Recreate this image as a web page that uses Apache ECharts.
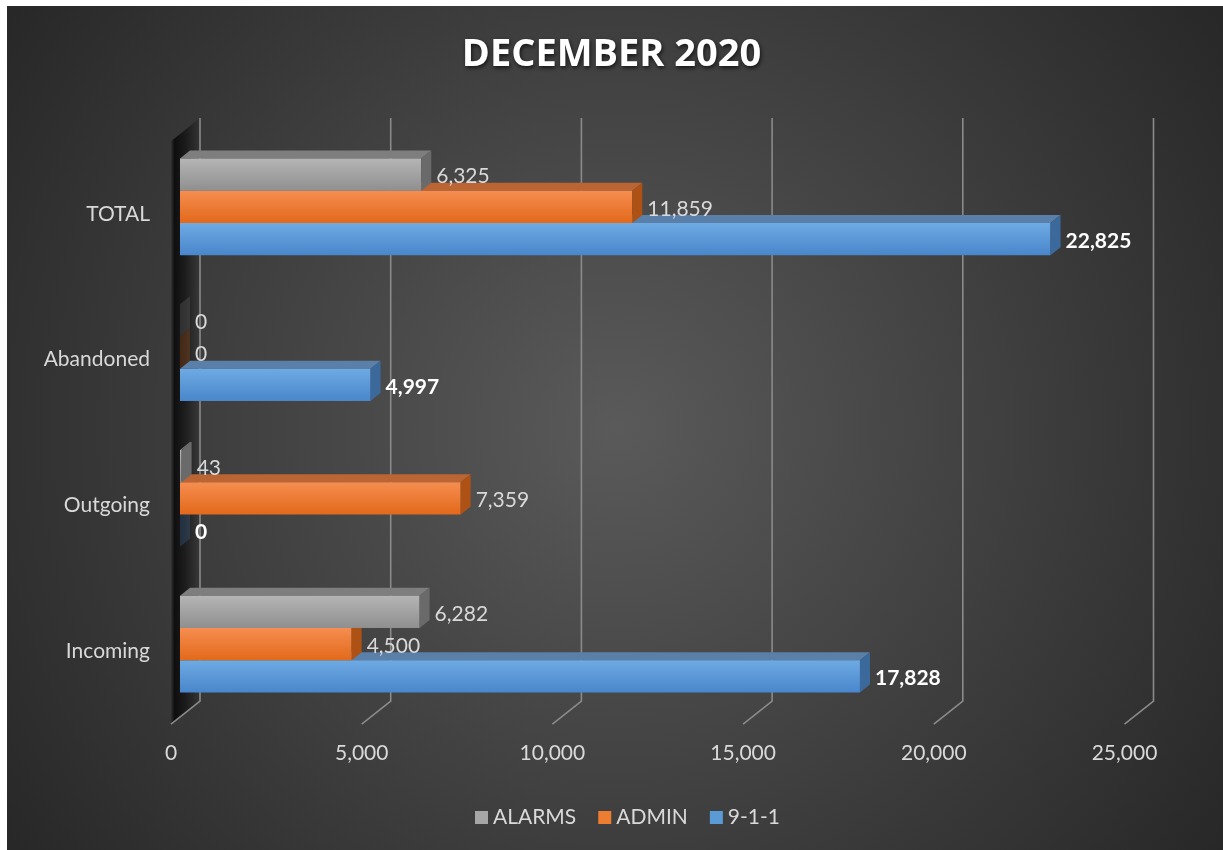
<!DOCTYPE html>
<html>
<head>
<meta charset="utf-8">
<script src="https://cdn.jsdelivr.net/npm/echarts@6/dist/echarts.min.js"></script>
<style>
html,body{margin:0;padding:0;background:#fff;}
#chart{width:1223px;height:850px;}
</style>
</head>
<body>
<div id="chart"></div>
<script>
// ---- data ----
const categories = ['Incoming', 'Outgoing', 'Abandoned', 'TOTAL'];
const alarms = [6282, 43, 0, 6325];
const admin = [4500, 7359, 0, 11859];
const e911 = [17828, 0, 4997, 22825];
const xTicks = [0, 5000, 10000, 15000, 20000, 25000];
const seriesNames = ['ALARMS', 'ADMIN', '9-1-1'];
const titleText = 'DECEMBER 2020';

const FONT = 'Lato';
const DX = 10, DY = -8; // depth unit of the 3D look

function grad(top, bottom) {
  return {type: 'linear', x: 0, y: 0, x2: 0, y2: 1,
    colorStops: [{offset: 0, color: top}, {offset: 1, color: bottom}]};
}

const styles = [
  {slot: -1, front: grad('#b5b5b5', '#8f8f8f'), top: '#7e7e7e', side: '#6a6a6a', label: '#d9d9d9', bold: false, z: 4},
  {slot: 0, front: grad('#f68d50', '#e2691a'), top: '#bb6535', side: '#ad5214', label: '#d9d9d9', bold: false, z: 3},
  {slot: 1, front: grad('#6eaae3', '#4986cb'), top: '#5a7fa9', side: '#3b699c', label: '#ffffff', bold: true, z: 2}
];

function barRenderer(st) {
  return function (params, api) {
    const v = api.value(0), c = api.value(1);
    const p0 = api.coord([0, c]);
    const p1 = api.coord([v, c]);
    const band = api.size([0, 1])[1];
    const t = band * 0.2215;
    const yTop = p0[1] + (st.slot - 0.5) * t;
    const yBot = yTop + t;
    const x0 = p0[0], x1 = p1[0];
    const dim = v === 0 ? 0.3 : 1;
    return {
      type: 'group',
      children: [
        {type: 'polygon', shape: {points: [[x0, yTop], [x1, yTop], [x1 + DX, yTop + DY], [x0 + DX, yTop + DY]]},
          style: {fill: st.top}},
        {type: 'rect', shape: {x: x0, y: yTop, width: Math.max(x1 - x0, 0), height: t},
          style: {fill: st.front}},
        {type: 'polygon', shape: {points: [[x1, yTop], [x1 + DX, yTop + DY], [x1 + DX, yBot + DY], [x1, yBot]]},
          style: {fill: st.side, opacity: dim}},
        {type: 'text', x: x1 + DX + 5, y: yTop + t / 2 + 2,
          style: {text: v.toLocaleString('en-US'), fill: st.label, fontFamily: FONT,
            fontSize: 21, fontWeight: st.bold ? 'bold' : 'normal', align: 'left', verticalAlign: 'middle'}}
      ]
    };
  };
}

function frameRenderer(params, api) {
  const v = api.value(0);
  const nCat = categories.length;
  const band = api.size([0, 1])[1];
  const pTop = api.coord([v, nCat - 1]);
  const pBot = api.coord([v, 0]);
  const gridTop = pTop[1] - band / 2;
  const gridBot = pBot[1] + band / 2;
  const x = pTop[0];
  const bx = x + 2 * DX, frontK = -0.9;
  const children = [];
  if (params.dataIndex === 0) {
    children.push({
      type: 'polygon',
      shape: {points: [[bx, gridTop + 2 * DY], [bx, gridBot + 2 * DY], [x + frontK * DX, gridBot + frontK * DY], [x + frontK * DX, gridTop + 2 * DY + (frontK - 2) * DY]]},
      style: {fill: {type: 'linear', x: 0, y: 0, x2: 1, y2: 0,
        colorStops: [{offset: 0, color: 'rgba(0,0,0,0.1)'}, {offset: 0.12, color: 'rgba(0,0,0,0.75)'}, {offset: 0.5, color: 'rgba(0,0,0,0.5)'}, {offset: 1, color: 'rgba(0,0,0,0.05)'}]}}
    });
  }
  children.push({
    type: 'polyline',
    shape: {points: [[bx, gridTop + 2 * DY], [bx, gridBot + 2 * DY], [x + frontK * DX, gridBot + frontK * DY]]},
    style: {stroke: '#8a8a8a', lineWidth: 1.6, fill: null}
  });
  return {type: 'group', children: children};
}

const seriesData = [alarms, admin, e911];
const series = [{
  type: 'custom', name: 'frame', z: 1, silent: true,
  renderItem: frameRenderer,
  encode: {x: 0, y: 1},
  data: xTicks.map(v => [v, 0])
}];
seriesNames.forEach((name, i) => {
  series.push({
    type: 'custom', name: name, z: styles[i].z,
    itemStyle: {color: ['#a6a6a6', '#ed7d31', '#5b9bd5'][i]},
    renderItem: barRenderer(styles[i]),
    encode: {x: 0, y: 1},
    data: seriesData[i].map((v, k) => [v, k])
  });
});

const chart = echarts.init(document.getElementById('chart'), null, {renderer: 'canvas'});
chart.setOption({
  animation: false,
  backgroundColor: '#ffffff',
  graphic: [{
    type: 'rect', z: -100, silent: true,
    shape: {x: 7, y: 6, width: 1216, height: 844},
    style: {fill: {type: 'radial', x: 0.5, y: 0.5, r: 0.9,
      colorStops: [{offset: 0, color: '#5a5a5a'}, {offset: 1, color: '#262626'}]}}
  }],
  title: {
    text: titleText, left: 'center', top: 31,
    textStyle: {color: '#ffffff', fontFamily: 'Open Sans', fontWeight: 'bold', fontSize: 38,
      textShadowColor: 'rgba(0,0,0,0.7)', textShadowBlur: 4, textShadowOffsetX: 1, textShadowOffsetY: 2}
  },
  legend: {
    data: seriesNames, left: 470, top: 802, icon: 'rect', itemWidth: 13, itemHeight: 13, itemGap: 22,
    textStyle: {color: '#d9d9d9', fontFamily: FONT, fontSize: 21}
  },
  grid: {left: 180, top: 134, width: 953.5, height: 583, containLabel: false},
  xAxis: {
    type: 'value', min: 0, max: 25000, interval: 5000,
    axisLine: {show: false}, axisTick: {show: false}, splitLine: {show: false},
    axisLabel: {color: '#d9d9d9', fontFamily: FONT, fontSize: 21, margin: 26, padding: [0, 18, 0, 0],
      formatter: v => v.toLocaleString('en-US')}
  },
  yAxis: {
    type: 'category', data: categories,
    axisLine: {show: false}, axisTick: {show: false}, splitLine: {show: false},
    axisLabel: {color: '#d9d9d9', fontFamily: FONT, fontSize: 21, margin: 30,
      verticalAlign: 'top', lineHeight: 14}
  },
  series: series
});
</script>
</body>
</html>
